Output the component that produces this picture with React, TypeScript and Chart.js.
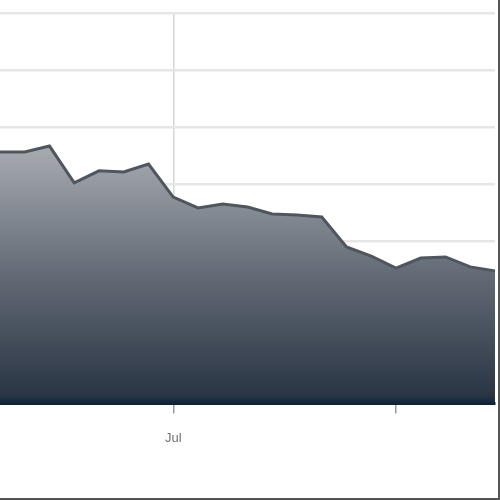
import { useEffect, useRef } from 'react'
import { Chart, registerables } from 'chart.js'

Chart.register(...registerables)

// one label per point; only "Jul" is printed
const labels = ['', '', '', '', '', '', '', 'Jul', '', '', '', '', '', '', '', '', '', '', '', '', '']
const values = [91.2, 91.2, 93.3, 80.4, 84.6, 84.2, 87.0, 75.4, 71.6, 73.0, 71.9, 69.5, 69.1, 68.4, 57.9, 54.7, 50.5, 54.0, 54.4, 50.9, 49.5]
// indexes that get a tick mark on the x axis
const tickIndexes = [7, 16]

// chart.js reserves the tick padding on both sides of the x axis,
// so the canvas is widened and pulled left by that much
const TICK_PAD = 17

export default function App() {
  const canvasRef = useRef<HTMLCanvasElement>(null)

  useEffect(() => {
    if (!canvasRef.current) return

    const chart = new Chart(canvasRef.current, {
      type: 'line',
      data: {
        labels,
        datasets: [{
          data: values,
          borderColor: '#50565e',
          borderWidth: 3,
          pointRadius: 0,
          tension: 0,
          fill: 'start',
          backgroundColor: (ctx: any) => {
            const { chart } = ctx
            const area = chart.chartArea
            if (!area) return '#666'
            const top = chart.scales.y.getPixelForValue(Math.max(...values))
            const g = chart.ctx.createLinearGradient(0, top, 0, area.bottom)
            g.addColorStop(0, '#a8acb1')
            g.addColorStop(0.5, '#626a75')
            g.addColorStop(0.97, '#2a3544')
            g.addColorStop(1, '#0e233a')
            return g
          }
        }]
      },
      options: {
        animation: false,
        responsive: false,
        maintainAspectRatio: false,
        layout: { padding: { top: 13, right: 0, left: 0, bottom: 35 } },
        plugins: {
          legend: { display: false },
          tooltip: { enabled: false }
        },
        scales: {
          x: {
            offset: false,
            border: { display: true, color: '#0c2239', width: 3 },
            grid: {
              color: (ctx: any) => (ctx.index === 7 ? '#d6d6d6' : 'rgba(0,0,0,0)'),
              lineWidth: 1.5,
              tickColor: (ctx: any) => (tickIndexes.includes(ctx.index) ? '#999' : 'rgba(0,0,0,0)'),
              tickLength: 10
            },
            ticks: {
              autoSkip: false,
              maxRotation: 0,
              padding: TICK_PAD,
              color: '#707070',
              font: { family: 'Liberation Sans', size: 13 }
            }
          },
          y: {
            min: 3,
            max: 140,
            border: { display: false },
            grid: { color: '#e6e6e6', lineWidth: 2.5, drawTicks: false },
            ticks: { display: false, stepSize: 20 }
          }
        }
      }
    })

    return () => chart.destroy()
  }, [])

  return (
    <div style={{
      position: 'fixed', left: 0, top: 0, width: 498, height: 498, overflow: 'hidden',
      borderRight: '2px solid #555', borderBottom: '2px solid #555', background: '#fff'
    }}>
      <canvas
        ref={canvasRef}
        width={495 + 2 * TICK_PAD}
        height={498}
        style={{ display: 'block', marginLeft: -TICK_PAD }}
      ></canvas>
    </div>
  )
}
